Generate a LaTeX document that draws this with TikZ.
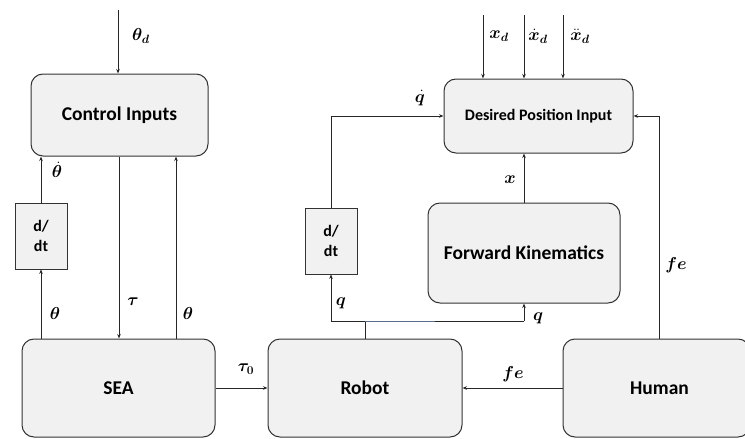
\documentclass[tikz,border=0pt]{standalone}
\usepackage{amsmath}
\usepackage{bm}
\usepackage{fontspec}
\setmainfont{Carlito}
\usetikzlibrary{arrows.meta}
\definecolor{boxfill}{HTML}{F1F1F1}
\definecolor{boxline}{HTML}{333333}
\definecolor{wireblue}{HTML}{5A6E8C}
\tikzset{
  block/.style={draw=boxline, line width=1pt, fill=boxfill, rounded corners=12pt,
    font=\fontsize{19.5}{22}\selectfont\bfseries, align=center},
  diffbox/.style={draw=boxline, line width=0.8pt, fill=boxfill,
    font=\fontsize{16}{20}\selectfont\bfseries, align=center},
  wire/.style={draw=black!85, line width=0.8pt},
  arr/.style={wire, -{Stealth[length=4.5pt,width=3.5pt]}},
  sig/.style={font=\fontsize{16.5}{18}\selectfont, inner sep=1pt}
}
\begin{document}
\begin{tikzpicture}[x=1pt,y=-1pt]
  \useasboundingbox (0,0) rectangle (745,439);
  \clip (0,0) rectangle (745,439);

  % blocks
  \node[block, minimum width=177pt, minimum height=82pt] (ci) at (119.5,115) {Control Inputs};
  \node[block, minimum width=193pt, minimum height=98pt] (sea) at (118.5,388) {SEA};
  \node[block, minimum width=194pt, minimum height=98pt] (robot) at (365,388) {Robot};
  \node[block, minimum width=187pt, minimum height=98pt] (human) at (656.5,388) {\hspace*{6pt}Human};
  \node[block, minimum width=189pt, minimum height=74pt,
        font=\fontsize{16}{18}\selectfont\bfseries] (des) at (538.5,116) {Desired Position Input};
  \node[block, minimum width=192pt, minimum height=100pt] (fk) at (524,253) {Forward Kinematics};
  \node[diffbox, minimum width=52pt, minimum height=66pt] (dd1) at (41,236) {d/\\dt};
  \node[diffbox, minimum width=52pt, minimum height=66pt] (dd2) at (331,241) {d/\\dt};

  % free ends of the reference inputs
  \coordinate (thd) at (118,10);
  \coordinate (xd1) at (483,15);
  \coordinate (xd2) at (524,15);
  \coordinate (xd3) at (563,15);
  \coordinate (qj) at (365,321);
  \coordinate (ql) at (331,321);
  \coordinate (qr) at (524,321);

  % left loop: SEA and control inputs
  \draw[arr] (thd) -- (thd |- ci.north);
  \draw[arr] (sea.north -| dd1) -- (dd1.south);
  \draw[arr] (dd1.north) -- (dd1.north |- ci.south);
  \draw[arr] (ci.south -| 119,0) -- (sea.north -| 119,0);
  \draw[arr] (sea.north -| 176,0) -- (ci.south -| 176,0);
  \draw[arr] (sea.east) -- (robot.west);

  % right loop: robot, kinematics and human
  \draw[arr] (human.west) -- (robot.east);
  \draw[arr] (human.north -| 659,0) |- (des.east);
  \draw[arr] (fk.north) -- (fk.north |- des.south);
  \draw[arr] (xd1) -- (xd1 |- des.north);
  \draw[arr] (xd2) -- (xd2 |- des.north);
  \draw[arr] (xd3) -- (xd3 |- des.north);
  \draw[wire] (robot.north) -- (qj);
  \draw[wire] (ql) -- (qr);
  \draw[draw=wireblue, line width=0.8pt] (qj) -- (435,321);
  \draw[arr] (ql) -- (dd2.south);
  \draw[arr] (qr) -- (qr |- fk.south);
  \draw[arr] (dd2.north) |- (des.west);

  % signal labels
  \node[sig] (l1) at (141,36) {$\bm{\theta}_{\bm d}$};
  \node[sig] (l2) at (57,170) {$\dot{\bm{\theta}}$};
  \node[sig] (l3) at (55,313) {$\bm{\theta}$};
  \node[sig] (l4) at (133,302) {$\bm{\tau}$};
  \node[sig] (l5) at (188,313) {$\bm{\theta}$};
  \node[sig] (l6) at (246,369) {$\bm{\tau}_{\bm 0}$};
  \node[sig] (l7) at (513,374) {$\bm{f}\bm{e}$};
  \node[sig] (l8) at (676,265) {$\bm{f}\bm{e}$};
  \node[sig] (l9) at (420,98) {$\dot{\bm{q}}$};
  \node[sig] (l10) at (510,180) {$\bm{x}$};
  \node[sig] (l11) at (341,303) {$\bm{q}$};
  \node[sig] (l12) at (538,318) {$\bm{q}$};
  \node[sig] (l13) at (499,36) {$\bm{x}_{\bm d}$};
  \node[sig] (l14) at (538,36) {$\dot{\bm{x}}_{\bm d}$};
  \node[sig] (l15) at (580,36) {$\ddot{\bm{x}}_{\bm d}$};
\end{tikzpicture}
\end{document}
